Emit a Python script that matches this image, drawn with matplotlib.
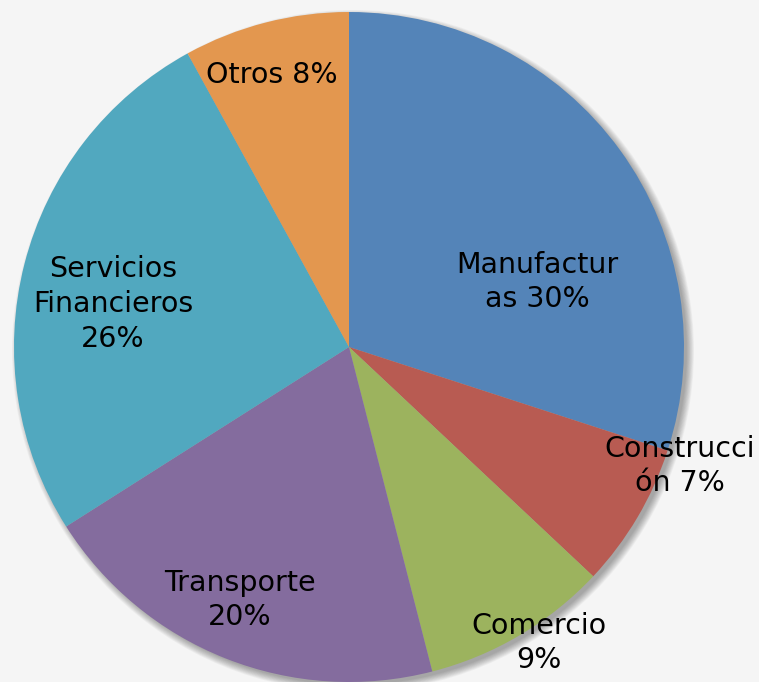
import matplotlib.pyplot as plt
from matplotlib.patches import Circle

# ---- Data ------------------------------------------------------------------

sectors = ["Manufacturas", "Construcción", "Comercio", "Transporte",
           "Servicios Financieros", "Otros"]
shares = [30, 7, 9, 20, 26, 8]
labels = ["Manufactur\nas 30%", "Construcci\nón 7%", "Comercio\n9%",
          "Transporte\n20%", "Servicios\nFinancieros\n26%", "Otros 8%"]
colors = ["#5484b8", "#b85b52", "#9cb35e", "#846c9e", "#51a8bf", "#e3974f"]

# label centres (pixels, y from top)
label_pos = [(537, 282), (680, 466), (539, 643), (240, 600), (113, 304), (272, 75)]

W, H = 759, 682
CX, CY, R = 349, 347, 335
BG = "#f5f5f5"

fig = plt.figure(figsize=(W / 100, H / 100), dpi=100, facecolor=BG)
ax = fig.add_axes([0, 0, 1, 1])
ax.set_facecolor(BG)

# soft drop shadow
for i in range(10):
    ax.add_patch(Circle((CX + 4, H - CY - 4), R + 6 - i * 0.8,
                        color="black", alpha=0.035, lw=0, zorder=0))

ax.pie(shares, colors=colors, startangle=90, counterclock=False,
       center=(CX, H - CY), radius=R,
       wedgeprops={"linewidth": 0, "zorder": 1})

for txt, (x, y) in zip(labels, label_pos):
    ax.text(x, H - y, txt, ha="center", va="center", fontsize=20.5,
            family="DejaVu Sans", color="black",
            linespacing=1.3, zorder=3)

ax.set_xlim(0, W)
ax.set_ylim(0, H)
ax.set_aspect("auto")
ax.axis("off")

fig.savefig("out.png", dpi=100, facecolor=BG)
